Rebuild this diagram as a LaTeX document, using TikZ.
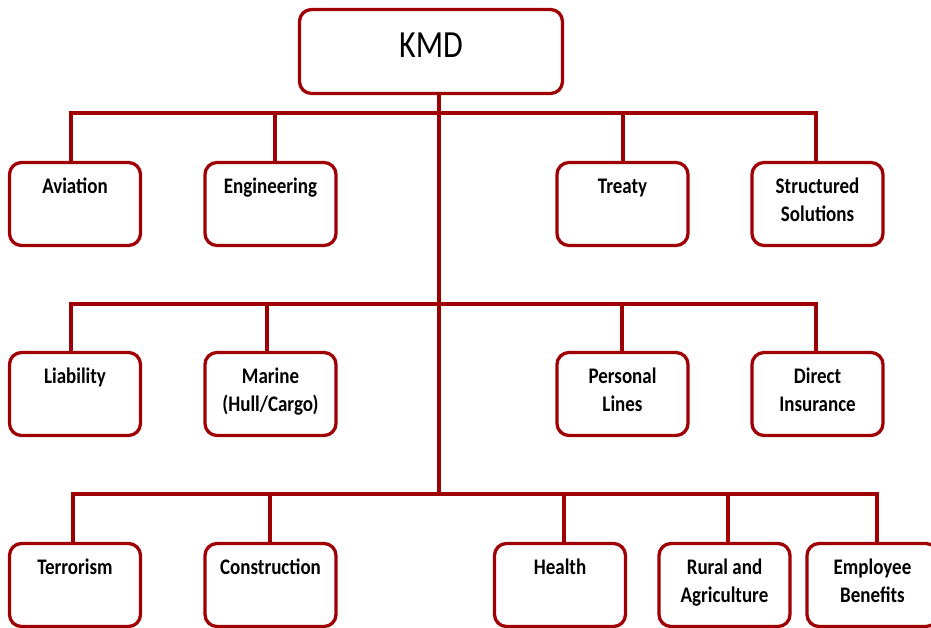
\documentclass[tikz,border=0pt]{standalone}
\usepackage{fontspec}
\setmainfont{Carlito}
\usepackage{graphicx}
\definecolor{kred}{RGB}{158,0,4}
\newcommand{\boxtext}[1]{\scalebox{1}[1.17]{\begin{tabular}[t]{@{}c@{}}#1\end{tabular}}}
\begin{document}
\begin{tikzpicture}[x=1pt,y=-1pt,
  box/.style={draw=kred, line width=3.3pt, rounded corners=12pt, minimum width=131pt, minimum height=83pt, inner sep=0pt, fill=white},
  conn/.style={draw=kred, line width=4pt},
  lbl/.style={anchor=base, inner sep=0pt, font=\fontsize{19}{24}\selectfont\bfseries, text=black},
]
\useasboundingbox (0,0) rectangle (931,628);
% boxes
\node[box, minimum width=263pt, minimum height=84pt] (kmd) at (431,51.5) {};
\node[anchor=base, inner sep=0pt, font=\fontsize{32}{38}\selectfont] (kmdt) at (431,57.5) {\scalebox{1}[1.2]{KMD}};
% row 1
\node[box] (avi) at (75,204) {};
\node[box] (eng) at (270.5,204) {};
\node[box] (tre) at (622.5,204) {};
\node[box] (sts) at (817.5,204) {};
% row 2
\node[box] (lia) at (75,394) {};
\node[box] (mar) at (270.5,394) {};
\node[box] (per) at (622.5,394) {};
\node[box] (dir) at (817.5,394) {};
% row 3
\node[box] (ter) at (75,585) {};
\node[box] (con) at (270.5,585) {};
\node[box] (hea) at (560,585) {};
\node[box] (rur) at (724.5,585) {};
\node[box] (emp) at (872.5,585) {};
% labels
\node[lbl] (avit) at ([yshift=-33pt]avi.north) {\boxtext{Aviation}};
\node[lbl] (engt) at ([yshift=-33pt]eng.north) {\boxtext{Engineering}};
\node[lbl] (tret) at ([yshift=-33pt]tre.north) {\boxtext{Treaty}};
\node[lbl] (stst) at ([yshift=-33pt]sts.north) {\boxtext{Structured\\Solutions}};
\node[lbl] (liat) at ([yshift=-33pt]lia.north) {\boxtext{Liability}};
\node[lbl] (mart) at ([yshift=-33pt]mar.north) {\boxtext{Marine\\(Hull/Cargo)}};
\node[lbl] (pert) at ([yshift=-33pt]per.north) {\boxtext{Personal\\Lines}};
\node[lbl] (dirt) at ([yshift=-33pt]dir.north) {\boxtext{Direct\\Insurance}};
\node[lbl] (tert) at ([yshift=-33pt]ter.north) {\boxtext{Terrorism}};
\node[lbl] (cont) at ([yshift=-33pt]con.north) {\boxtext{Construction}};
\node[lbl] (heat) at ([yshift=-33pt]hea.north) {\boxtext{Health}};
\node[lbl] (rurt) at ([yshift=-33pt]rur.north) {\boxtext{Rural and\\Agriculture}};
\node[lbl] (empt) at ([yshift=-33pt]emp.north) {\boxtext{Employee\\Benefits}};
% buses
\coordinate (b1) at (439,113);
\coordinate (b2) at (439,304);
\coordinate (b3) at (439,494);
\draw[conn] (kmd.south -| b1) -- (b3);
% row 1 connectors
\draw[conn] ([xshift=-4pt]avi.north) |- (b1) -| ([xshift=-1.5pt]sts.north);
\draw[conn] ([xshift=4.5pt]eng.north) -- ([xshift=4.5pt]eng.north |- b1);
\draw[conn] ([xshift=0.5pt]tre.north) -- ([xshift=0.5pt]tre.north |- b1);
% row 2 connectors
\draw[conn] ([xshift=-4pt]lia.north) |- (b2) -| ([xshift=-1.5pt]dir.north);
\draw[conn] ([xshift=-3.5pt]mar.north) -- ([xshift=-3.5pt]mar.north |- b2);
\draw[conn] ([xshift=-0.5pt]per.north) -- ([xshift=-0.5pt]per.north |- b2);
% row 3 connectors
\draw[conn] ([xshift=-2pt]ter.north) |- (b3) -| ([xshift=4.5pt]emp.north);
\draw[conn] ([xshift=-0.5pt]con.north) -- ([xshift=-0.5pt]con.north |- b3);
\draw[conn] ([xshift=4pt]hea.north) -- ([xshift=4pt]hea.north |- b3);
\draw[conn] ([xshift=3.5pt]rur.north) -- ([xshift=3.5pt]rur.north |- b3);
\end{tikzpicture}
\end{document}
